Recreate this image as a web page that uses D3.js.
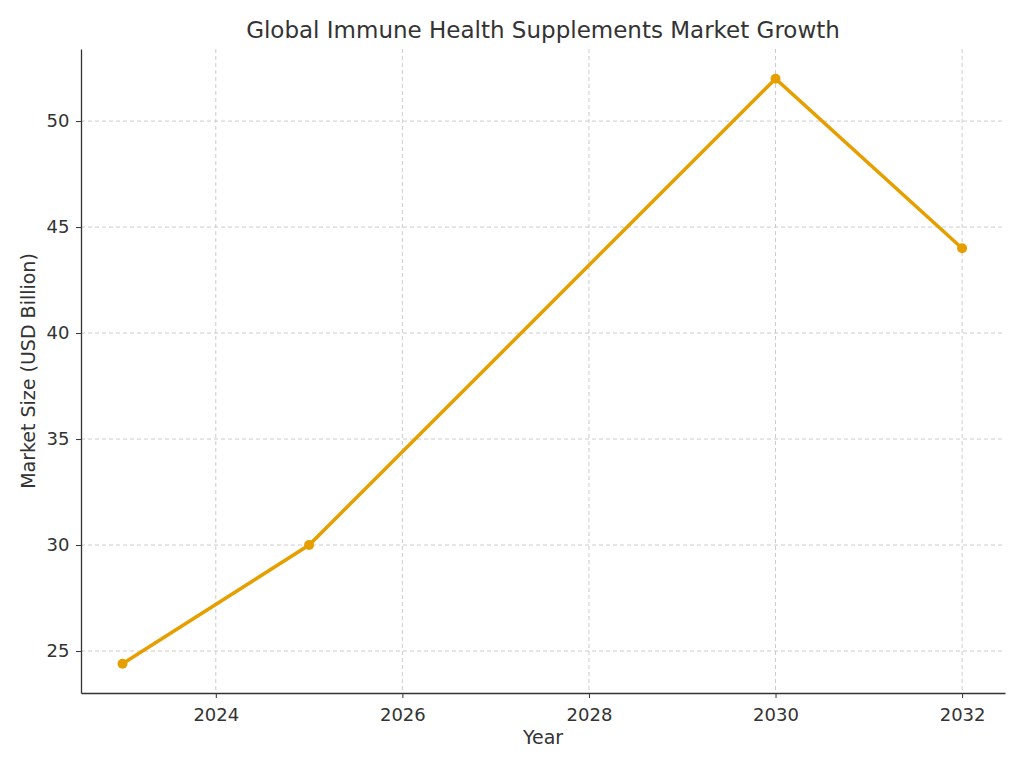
<!DOCTYPE html>
<html>
<head>
<meta charset="utf-8">
<script src="https://cdn.jsdelivr.net/npm/d3@7"></script>
<style>
  body { margin: 0; background: #fff; }
  text { font-family: "DejaVu Sans", sans-serif; }
</style>
</head>
<body>
<svg id="chart" width="1024" height="768"></svg>
<script>
// Chart data
const years = [2023, 2025, 2030, 2032];
const marketSize = [24.4, 30, 52, 44];
const xTicks = [2024, 2026, 2028, 2030, 2032];
const yTicks = [25, 30, 35, 40, 45, 50];

const svg = d3.select("#chart");
const margin = { top: 49, right: 19, bottom: 75, left: 81 };
const width = 1024 - margin.left - margin.right;
const height = 768 - margin.top - margin.bottom;

const x = d3.scaleLinear().domain([2022.555, 2032.46]).range([0, width]);
const y = d3.scaleLinear().domain([23.02, 53.4]).range([height, 0]);

const g = svg.append("g").attr("transform", `translate(${margin.left},${margin.top})`);

// Grid lines
g.append("g")
  .selectAll("line")
  .data(xTicks)
  .join("line")
  .attr("x1", d => x(d)).attr("x2", d => x(d))
  .attr("y1", 0).attr("y2", height)
  .attr("stroke", "#ccc").attr("stroke-dasharray", "4,3");

g.append("g")
  .selectAll("line")
  .data(yTicks)
  .join("line")
  .attr("y1", d => y(d)).attr("y2", d => y(d))
  .attr("x1", 0).attr("x2", width)
  .attr("stroke", "#ccc").attr("stroke-dasharray", "4,3");

// Axes
const xAxis = g.append("g")
  .attr("transform", `translate(0,${height})`)
  .call(d3.axisBottom(x).tickValues(xTicks).tickFormat(d3.format("d")).tickSize(5).tickSizeOuter(0));
const yAxis = g.append("g")
  .call(d3.axisLeft(y).tickValues(yTicks).tickSize(5).tickSizeOuter(0));

[xAxis, yAxis].forEach(a => {
  a.selectAll("text").attr("font-size", 18).attr("fill", "#333");
  a.selectAll("line").attr("stroke", "#333");
  a.select(".domain").attr("stroke", "#333").attr("stroke-width", 1.3);
});
xAxis.selectAll("text").attr("dy", "1.1em");
yAxis.selectAll("text").attr("dx", "-0.2em");

// Line
const line = d3.line().x((d, i) => x(years[i])).y(d => y(d));
g.append("path")
  .datum(marketSize)
  .attr("d", line)
  .attr("fill", "none")
  .attr("stroke", "#E69F00")
  .attr("stroke-width", 3.5);

g.selectAll("circle")
  .data(marketSize)
  .join("circle")
  .attr("cx", (d, i) => x(years[i]))
  .attr("cy", d => y(d))
  .attr("r", 5)
  .attr("fill", "#E69F00");

// Labels
svg.append("text")
  .attr("x", margin.left + width / 2).attr("y", 38)
  .attr("text-anchor", "middle").attr("font-size", 23).attr("fill", "#333")
  .text("Global Immune Health Supplements Market Growth");

svg.append("text")
  .attr("x", margin.left + width / 2).attr("y", 744)
  .attr("text-anchor", "middle").attr("font-size", 19).attr("fill", "#333")
  .text("Year");

svg.append("text")
  .attr("transform", `translate(35,${margin.top + height / 2}) rotate(-90)`)
  .attr("text-anchor", "middle").attr("font-size", 19).attr("fill", "#333")
  .text("Market Size (USD Billion)");
</script>
</body>
</html>
